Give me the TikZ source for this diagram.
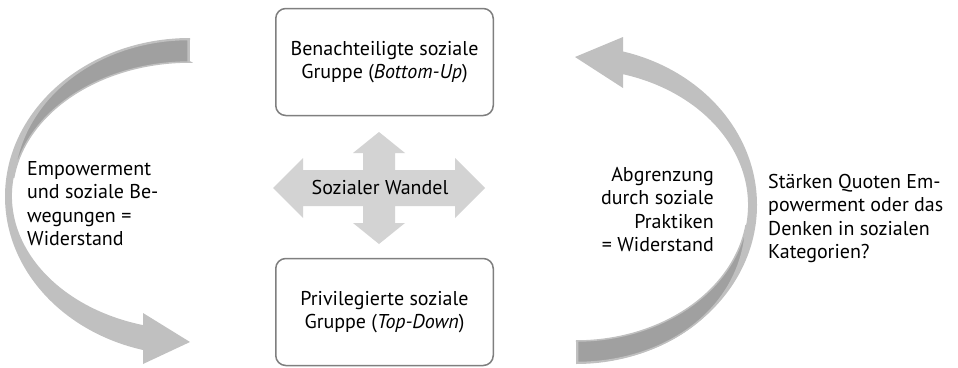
\documentclass[tikz,border=0pt]{standalone}
\usepackage{fontspec}
\setmainfont{PT Sans}
\usepackage{tikz}
\definecolor{arrowlight}{HTML}{C0C0C0}
\definecolor{arrowdark}{HTML}{A0A0A0}
\definecolor{crossgray}{HTML}{D3D3D3}
\definecolor{boxline}{HTML}{7F7F7F}

\begin{document}
\begin{tikzpicture}[x=1pt,y=-1pt]
\tikzstyle{group} = [draw=boxline, line width=1.5pt, rounded corners=10pt, fill=white, minimum width=217.5pt, minimum height=107pt, align=center, font=\fontsize{20}{23.5}\selectfont]
\tikzstyle{txt} = [inner sep=0pt, font=\fontsize{20}{23.5}\selectfont]
\tikzstyle{front} = [fill=arrowlight]
\tikzstyle{back} = [fill=arrowdark, draw=arrowlight, line width=1.5pt]
\useasboundingbox (0,0) rectangle (958,367);
\fill [front] (190,38) arc [start angle=270, end angle=104.7, x radius=185, y radius=158.6] -- (143,364) -- (190,342) -- (143,313) -- (143,325.1) arc [start angle=105.3, end angle=270, x radius=178, y radius=133.9] -- cycle;
\draw [back] (188,39.5) .. controls (100,40) and (22,95) .. (13.6,178) arc [start angle=187.7, end angle=270, x radius=178, y radius=133.9] -- (188,61) -- cycle;
\fill [front] (576,364) arc [start angle=90, end angle=-74.95, x radius=181, y radius=159] -- (623,37) -- (575,57) -- (623,88) -- (623,74.2) arc [start angle=-74.14, end angle=90, x radius=172, y radius=136] -- cycle;
\draw [back] (577.5,362.5) .. controls (665,362) and (742,310) .. (746.1,225) arc [start angle=8.46, end angle=90, x radius=172, y radius=136] -- (577.5,341) -- cycle;
\fill [crossgray] (379,132) -- (405,153) -- (395,153) -- (395,170) -- (455,170) -- (455,158) -- (485,188) -- (455,218) -- (455,206) -- (395,206) -- (395,223) -- (405,223) -- (379,244) -- (353,223) -- (363,223) -- (363,206) -- (303,206) -- (303,218) -- (273,188) -- (303,158) -- (303,170) -- (363,170) -- (363,153) -- (353,153) -- cycle;
\node [group] (bottomup) at (384.5,62) {Benachteiligte soziale\\Gruppe (\textit{Bottom-Up})};
\node [group] (topdown) at (384.5,312) {Privilegierte soziale\\Gruppe (\textit{Top-Down})};
\node [txt] (wandel) at (380,187) {Sozialer Wandel};
\node [txt, align=left, anchor=west] (empower) at (27,203.5) {Empowerment\\und soziale Be-\\wegungen =\\Widerstand};
\node [txt, align=right, anchor=east] (abgrenz) at (714,209.5) {Abgrenzung\\durch soziale\\Praktiken\\= Widerstand};
\node [txt, align=left, anchor=west] (quoten) at (768,218.5) {Stärken Quoten Em-\\powerment oder das\\Denken in sozialen\\Kategorien?};
\end{tikzpicture}
\end{document}
